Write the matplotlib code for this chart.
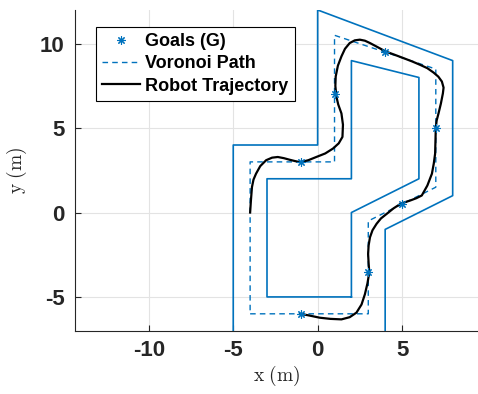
import matplotlib
matplotlib.use('Agg')
import matplotlib.pyplot as plt

# map walls (outer and inner)
outer_x = [4, 4, 8, 8, 0, 0, -5, -5]
outer_y = [-7, -1, 1, 9, 12, 4, 4, -7]
inner_x = [2, -3, -3, 2, 2, 6, 6, 2, 2]
inner_y = [-5, -5, 2, 2, 9, 8, 2, 0, -5]

# voronoi path
vor_x = [-4, 3, 3, 7, 7, 1, 1, -4, -4]
vor_y = [-6, -6, -0.5, 1.5, 8.5, 10.5, 3, 3, -6]

# goals
goal_x = [-1, 3, 5, 7, 4, 1, -1]
goal_y = [-6, -3.5, 0.5, 5, 9.5, 7, 3]

# robot trajectory
traj_x = [-4.0, -3.95, -3.89, -3.8, -3.65, -3.4, -3.05, -2.7, -2.36, -2.0, -1.67, -1.35,
          -1.03, -0.55, -0.08, 0.45, 0.91, 1.25, 1.47, 1.5, 1.41, 1.22, 1.11, 1.05, 1.07,
          1.2, 1.41, 1.62, 1.9, 2.2, 2.5, 2.8, 3.1, 3.55, 4.03, 4.55, 5.08, 5.6, 6.07,
          6.5, 6.87, 7.15, 7.36, 7.46, 7.42, 7.3, 7.16, 7.05, 7.0, 6.98, 6.96, 6.88,
          6.77, 6.5, 6.17, 5.85, 5.48, 5.2, 4.92, 4.5, 4.09, 3.75, 3.49, 3.25, 3.1,
          3.02, 2.99, 3.02, 3.06, 2.95, 2.8, 2.6, 2.3, 1.9, 1.41, 0.75, 0.12, -0.5, -1.03]
traj_y = [0.0, 0.75, 1.51, 1.95, 2.3, 2.75, 3.1, 3.25, 3.29, 3.22, 3.13, 3.05,
          2.98, 3.1, 3.29, 3.5, 3.79, 4.1, 4.48, 5.2, 5.87, 6.4, 6.87, 7.5, 8.06,
          8.7, 9.25, 9.7, 10.04, 10.2, 10.24, 10.18, 10.04, 9.8, 9.54, 9.35, 9.15, 8.95, 8.75,
          8.55, 8.29, 8.05, 7.76, 7.4, 7.06, 6.45, 5.87, 5.45, 5.02, 4.25, 3.49, 2.9,
          2.3, 1.6, 1.01, 0.85, 0.71, 0.62, 0.52, 0.25, -0.08, -0.35, -0.67, -1.05, -1.47,
          -1.95, -2.46, -3.0, -3.55, -4.2, -4.84, -5.45, -5.93, -6.2, -6.33, -6.3, -6.23, -6.1, -6.0]

blue = '#0072BD'
dark = '#262626'

plt.rcParams['font.family'] = ['Liberation Sans', 'DejaVu Sans']
plt.rcParams['mathtext.fontset'] = 'cm'
plt.rcParams['axes.unicode_minus'] = False

fig = plt.figure(figsize=(4.78, 3.94), dpi=100)
ax = fig.add_axes([0.156, 0.1607, 0.844, 0.814])

ax.plot(goal_x, goal_y, linestyle='none', marker=(8, 2, 0), markersize=6,
        color=blue, markeredgewidth=0.8, label='Goals (G)', zorder=4)
ax.plot(vor_x, vor_y, '--', color=blue, lw=1.0, dashes=(4, 3), label='Voronoi Path', zorder=2)
ax.plot(traj_x, traj_y, '-', color='black', lw=1.6, label='Robot Trajectory', zorder=3)
ax.plot(outer_x, outer_y, '-', color=blue, lw=1.2, zorder=2)
ax.plot(inner_x, inner_y, '-', color=blue, lw=1.2, zorder=2)

ax.set_xlim(-14.4, 9.5)
ax.set_ylim(-7, 12)
ax.set_xticks([-10, -5, 0, 5])
ax.set_yticks([-5, 0, 5, 10])
ax.grid(True, color='#e3e3e3', lw=0.8)
ax.set_axisbelow(True)

for s in ['top', 'right']:
    ax.spines[s].set_visible(False)
for s in ['left', 'bottom']:
    ax.spines[s].set_color(dark)
    ax.spines[s].set_linewidth(0.8)

ax.tick_params(direction='in', length=4, width=0.8, colors=dark, labelsize=16, pad=7)
for lbl in ax.get_xticklabels() + ax.get_yticklabels():
    lbl.set_fontweight('bold')

ax.set_xlabel(r'$\mathrm{x\ (m)}$', fontsize=14, color=dark, labelpad=2)
ax.set_ylabel(r'$\mathrm{y\ (m)}$', fontsize=14, color=dark, labelpad=8)

leg = ax.legend(loc='upper left', bbox_to_anchor=(0.052, 0.948), borderaxespad=0,
                fancybox=False, edgecolor='black', framealpha=1,
                prop={'weight': 'bold', 'size': 13}, handlelength=2.1,
                handletextpad=0.3, labelspacing=0.3, borderpad=0.35)
leg.get_frame().set_linewidth(0.8)

fig.savefig('out.png', dpi=100)
